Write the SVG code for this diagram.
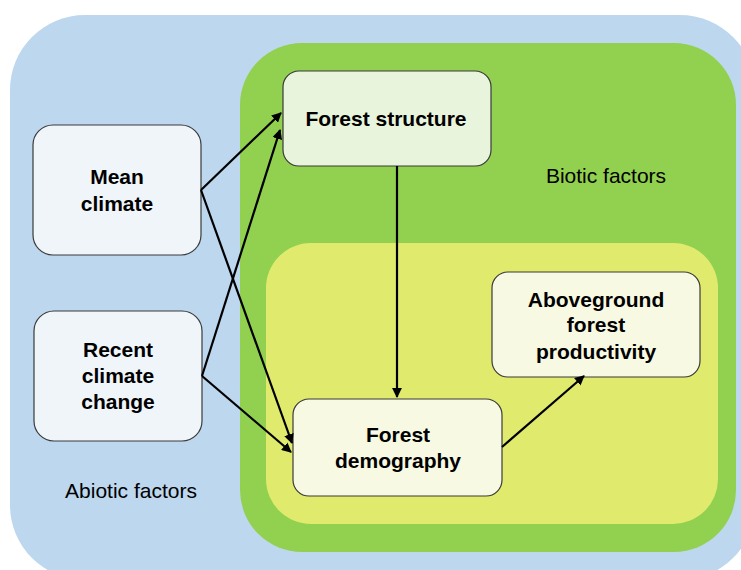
<svg xmlns="http://www.w3.org/2000/svg" width="741" height="570" viewBox="0 0 741 570">
<defs>
<style>
.node rect{stroke:#3a3a3a;stroke-width:1.2}
.t{font-family:"Liberation Sans",Arial,sans-serif;font-size:21px;font-weight:bold;fill:#000;text-anchor:middle}
.lbl{font-family:"Liberation Sans",Arial,sans-serif;font-size:21px;fill:#000;text-anchor:middle}
.c line{stroke:#000;stroke-width:2.2;marker-end:url(#ah)}
</style>
<marker id="ah" viewBox="0 0 10 10" refX="9" refY="5" markerWidth="4.5" markerHeight="4.5" orient="auto" markerUnits="strokeWidth">
<path d="M0,0 L10,5 L0,10 z" fill="#000"/>
</marker>
</defs>
<rect width="741" height="570" fill="#fff"/>
<g id="abiotic">
<rect x="10" y="15" width="745" height="565" rx="75" fill="#BDD7EE"/>
<text class="lbl" x="131" y="498">Abiotic factors</text>
</g>
<g id="biotic">
<rect x="240" y="43" width="496" height="509" rx="62" fill="#92D050"/>
<text class="lbl" x="606" y="183">Biotic factors</text>
</g>
<g id="inner">
<rect x="266" y="243" width="452" height="281" rx="45" fill="#E0EB6E"/>
</g>
<g id="mean-climate" class="node">
<rect x="33" y="125" width="168" height="130" rx="20" fill="#F0F5FA"/>
<text class="t" x="117" y="184">Mean</text>
<text class="t" x="117" y="211">climate</text>
</g>
<g id="recent-climate-change" class="node">
<rect x="34" y="311" width="168" height="130" rx="20" fill="#F0F5FA"/>
<text class="t" x="118" y="357">Recent</text>
<text class="t" x="118" y="383">climate</text>
<text class="t" x="118" y="409">change</text>
</g>
<g id="forest-structure" class="node">
<rect x="283" y="71" width="208" height="95" rx="16" fill="#E8F4DC"/>
<text class="t" x="386" y="126">Forest structure</text>
</g>
<g id="aboveground" class="node">
<rect x="492" y="272" width="208" height="105" rx="16" fill="#F7F9E2"/>
<text class="t" x="596" y="307">Aboveground</text>
<text class="t" x="596" y="332">forest</text>
<text class="t" x="596" y="359">productivity</text>
</g>
<g id="forest-demography" class="node">
<rect x="293" y="399" width="209" height="97" rx="16" fill="#F7F9E2"/>
<text class="t" x="398" y="442">Forest</text>
<text class="t" x="398" y="468">demography</text>
</g>
<g id="connectors" class="c">
<line x1="201" y1="190" x2="281" y2="113"/>
<line x1="202" y1="376" x2="280" y2="130"/>
<line x1="201" y1="190" x2="292" y2="443"/>
<line x1="202" y1="376" x2="291" y2="452"/>
<line x1="397" y1="166" x2="397" y2="397"/>
<line x1="502" y1="447" x2="584" y2="376"/>
</g>
</svg>
